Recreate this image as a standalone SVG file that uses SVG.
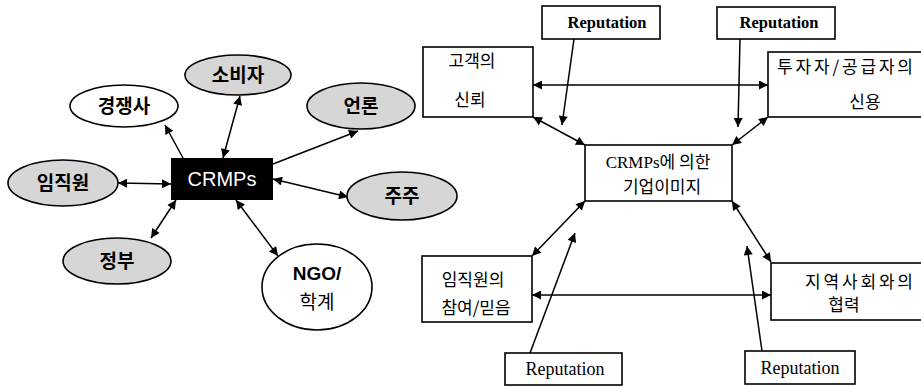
<svg xmlns="http://www.w3.org/2000/svg" width="921" height="387" viewBox="0 0 921 387">
<style>
.bg{fill:#ffffff}
.ell{stroke:#000;stroke-width:1.6}
.gray{fill:#d6d6d6}
.white{fill:#ffffff}
.box{fill:#ffffff;stroke:#000;stroke-width:1.6}
.lbl{font-family:"Liberation Sans","Noto Sans CJK KR",sans-serif;font-weight:bold;font-size:19px;fill:#000;text-anchor:middle}
.kr{font-family:"Noto Sans CJK KR","Liberation Sans",sans-serif;font-size:17px;fill:#000;text-anchor:middle}
.rep{font-family:"Liberation Serif",serif;fill:#000;text-anchor:middle}
.conn line{stroke:#000;stroke-width:1.5}
</style>
<defs>
<marker id="ah" viewBox="0 0 10 10" refX="10" refY="5" markerWidth="11" markerHeight="9" markerUnits="userSpaceOnUse" orient="auto-start-reverse"><path d="M0,0 L10,5 L0,10 z" fill="#000"/></marker>
</defs>
<rect class="bg" x="0" y="0" width="921" height="387"/>

<g id="conn" class="conn">
<line x1="183" y1="158" x2="165" y2="125" marker-end="url(#ah)"/>
<line x1="240" y1="96" x2="223" y2="158" marker-start="url(#ah)" marker-end="url(#ah)"/>
<line x1="273" y1="164" x2="358" y2="131" marker-end="url(#ah)"/>
<line x1="273" y1="179" x2="348" y2="197" marker-start="url(#ah)" marker-end="url(#ah)"/>
<line x1="118" y1="183" x2="171" y2="184" marker-start="url(#ah)" marker-end="url(#ah)"/>
<line x1="176" y1="200" x2="151" y2="238" marker-start="url(#ah)" marker-end="url(#ah)"/>
<line x1="236" y1="200" x2="278" y2="256" marker-start="url(#ah)" marker-end="url(#ah)"/>

<line x1="533" y1="85" x2="768" y2="85" marker-start="url(#ah)" marker-end="url(#ah)"/>
<line x1="533" y1="117" x2="585" y2="145" marker-start="url(#ah)" marker-end="url(#ah)"/>
<line x1="768" y1="117" x2="732" y2="145" marker-start="url(#ah)" marker-end="url(#ah)"/>
<line x1="574" y1="39" x2="562" y2="125" marker-end="url(#ah)"/>
<line x1="740" y1="39" x2="738" y2="127" marker-end="url(#ah)"/>
<line x1="532" y1="256" x2="585" y2="201" marker-start="url(#ah)" marker-end="url(#ah)"/>
<line x1="732" y1="201" x2="771" y2="262" marker-start="url(#ah)" marker-end="url(#ah)"/>
<line x1="532" y1="295" x2="771" y2="295" marker-start="url(#ah)" marker-end="url(#ah)"/>
<line x1="530" y1="353" x2="575" y2="233" marker-end="url(#ah)"/>
<line x1="762" y1="351" x2="747" y2="246" marker-end="url(#ah)"/>
</g>

<g id="competitor"><ellipse class="ell white" cx="124" cy="106" rx="54" ry="21"/><text class="lbl" x="124" y="113">경쟁사</text></g>
<g id="consumer"><ellipse class="ell gray" cx="238" cy="75" rx="53" ry="20"/><text class="lbl" x="238" y="82">소비자</text></g>
<g id="media"><ellipse class="ell gray" cx="361" cy="106" rx="54" ry="23"/><text class="lbl" x="361" y="113">언론</text></g>
<g id="employee"><ellipse class="ell gray" cx="63" cy="183" rx="55" ry="23"/><text class="lbl" x="63" y="190">임직원</text></g>
<g id="shareholder"><ellipse class="ell gray" cx="402" cy="196" rx="55" ry="24"/><text class="lbl" x="402" y="203">주주</text></g>
<g id="government"><ellipse class="ell gray" cx="117" cy="261" rx="54" ry="23"/><text class="lbl" x="117" y="268">정부</text></g>
<g id="ngo"><ellipse class="ell white" cx="317" cy="287" rx="55" ry="43"/><text class="lbl" x="317" y="280">NGO/</text><text class="lbl" x="317" y="309" style="font-weight:normal">학계</text></g>
<g id="crmps"><rect x="171" y="158" width="102" height="42" fill="#000"/><text x="222" y="186" style="font-family:'Liberation Sans',sans-serif;font-size:20px;fill:#fff;text-anchor:middle">CRMPs</text></g>

<g id="rep1"><rect class="box" x="542" y="6" width="118" height="33"/><text class="rep" x="607" y="28" style="font-size:16.5px;font-weight:bold">Reputation</text></g>
<g id="rep2"><rect class="box" x="717" y="7" width="118" height="32"/><text class="rep" x="779" y="28" style="font-size:16.5px;font-weight:bold">Reputation</text></g>
<g id="rep3"><rect class="box" x="505" y="353" width="117" height="32"/><text class="rep" x="565" y="375" style="font-size:18px">Reputation</text></g>
<g id="rep4"><rect class="box" x="745" y="351" width="110" height="33"/><text class="rep" x="800" y="374" style="font-size:18px">Reputation</text></g>

<g id="customer"><rect class="box" x="423" y="47" width="110" height="70"/><text class="kr" x="472" y="67">고객의</text><text class="kr" x="470" y="106">신뢰</text></g>
<g id="investor"><rect class="box" x="768" y="52" width="160" height="65"/><text class="kr" x="845" y="73" textLength="136" lengthAdjust="spacing">투자자/공급자의</text><text class="kr" x="865" y="108">신용</text></g>
<g id="image"><rect class="box" x="585" y="145" width="147" height="56"/><text x="658" y="168" style="font-family:'Liberation Serif','Noto Sans CJK KR',serif;font-size:17px;text-anchor:middle">CRMPs<tspan style="font-family:'Noto Sans CJK KR',sans-serif;font-size:17px">에 의한</tspan></text><text class="kr" x="662" y="193">기업이미지</text></g>
<g id="staff"><rect class="box" x="422" y="256" width="110" height="66"/><text class="kr" x="473" y="286">임직원의</text><text class="kr" x="476" y="314">참여/믿음</text></g>
<g id="community"><rect class="box" x="771" y="263" width="160" height="57"/><text class="kr" x="859" y="288" textLength="108" lengthAdjust="spacing">지역사회와의</text><text class="kr" x="844" y="311">협력</text></g>
</svg>
